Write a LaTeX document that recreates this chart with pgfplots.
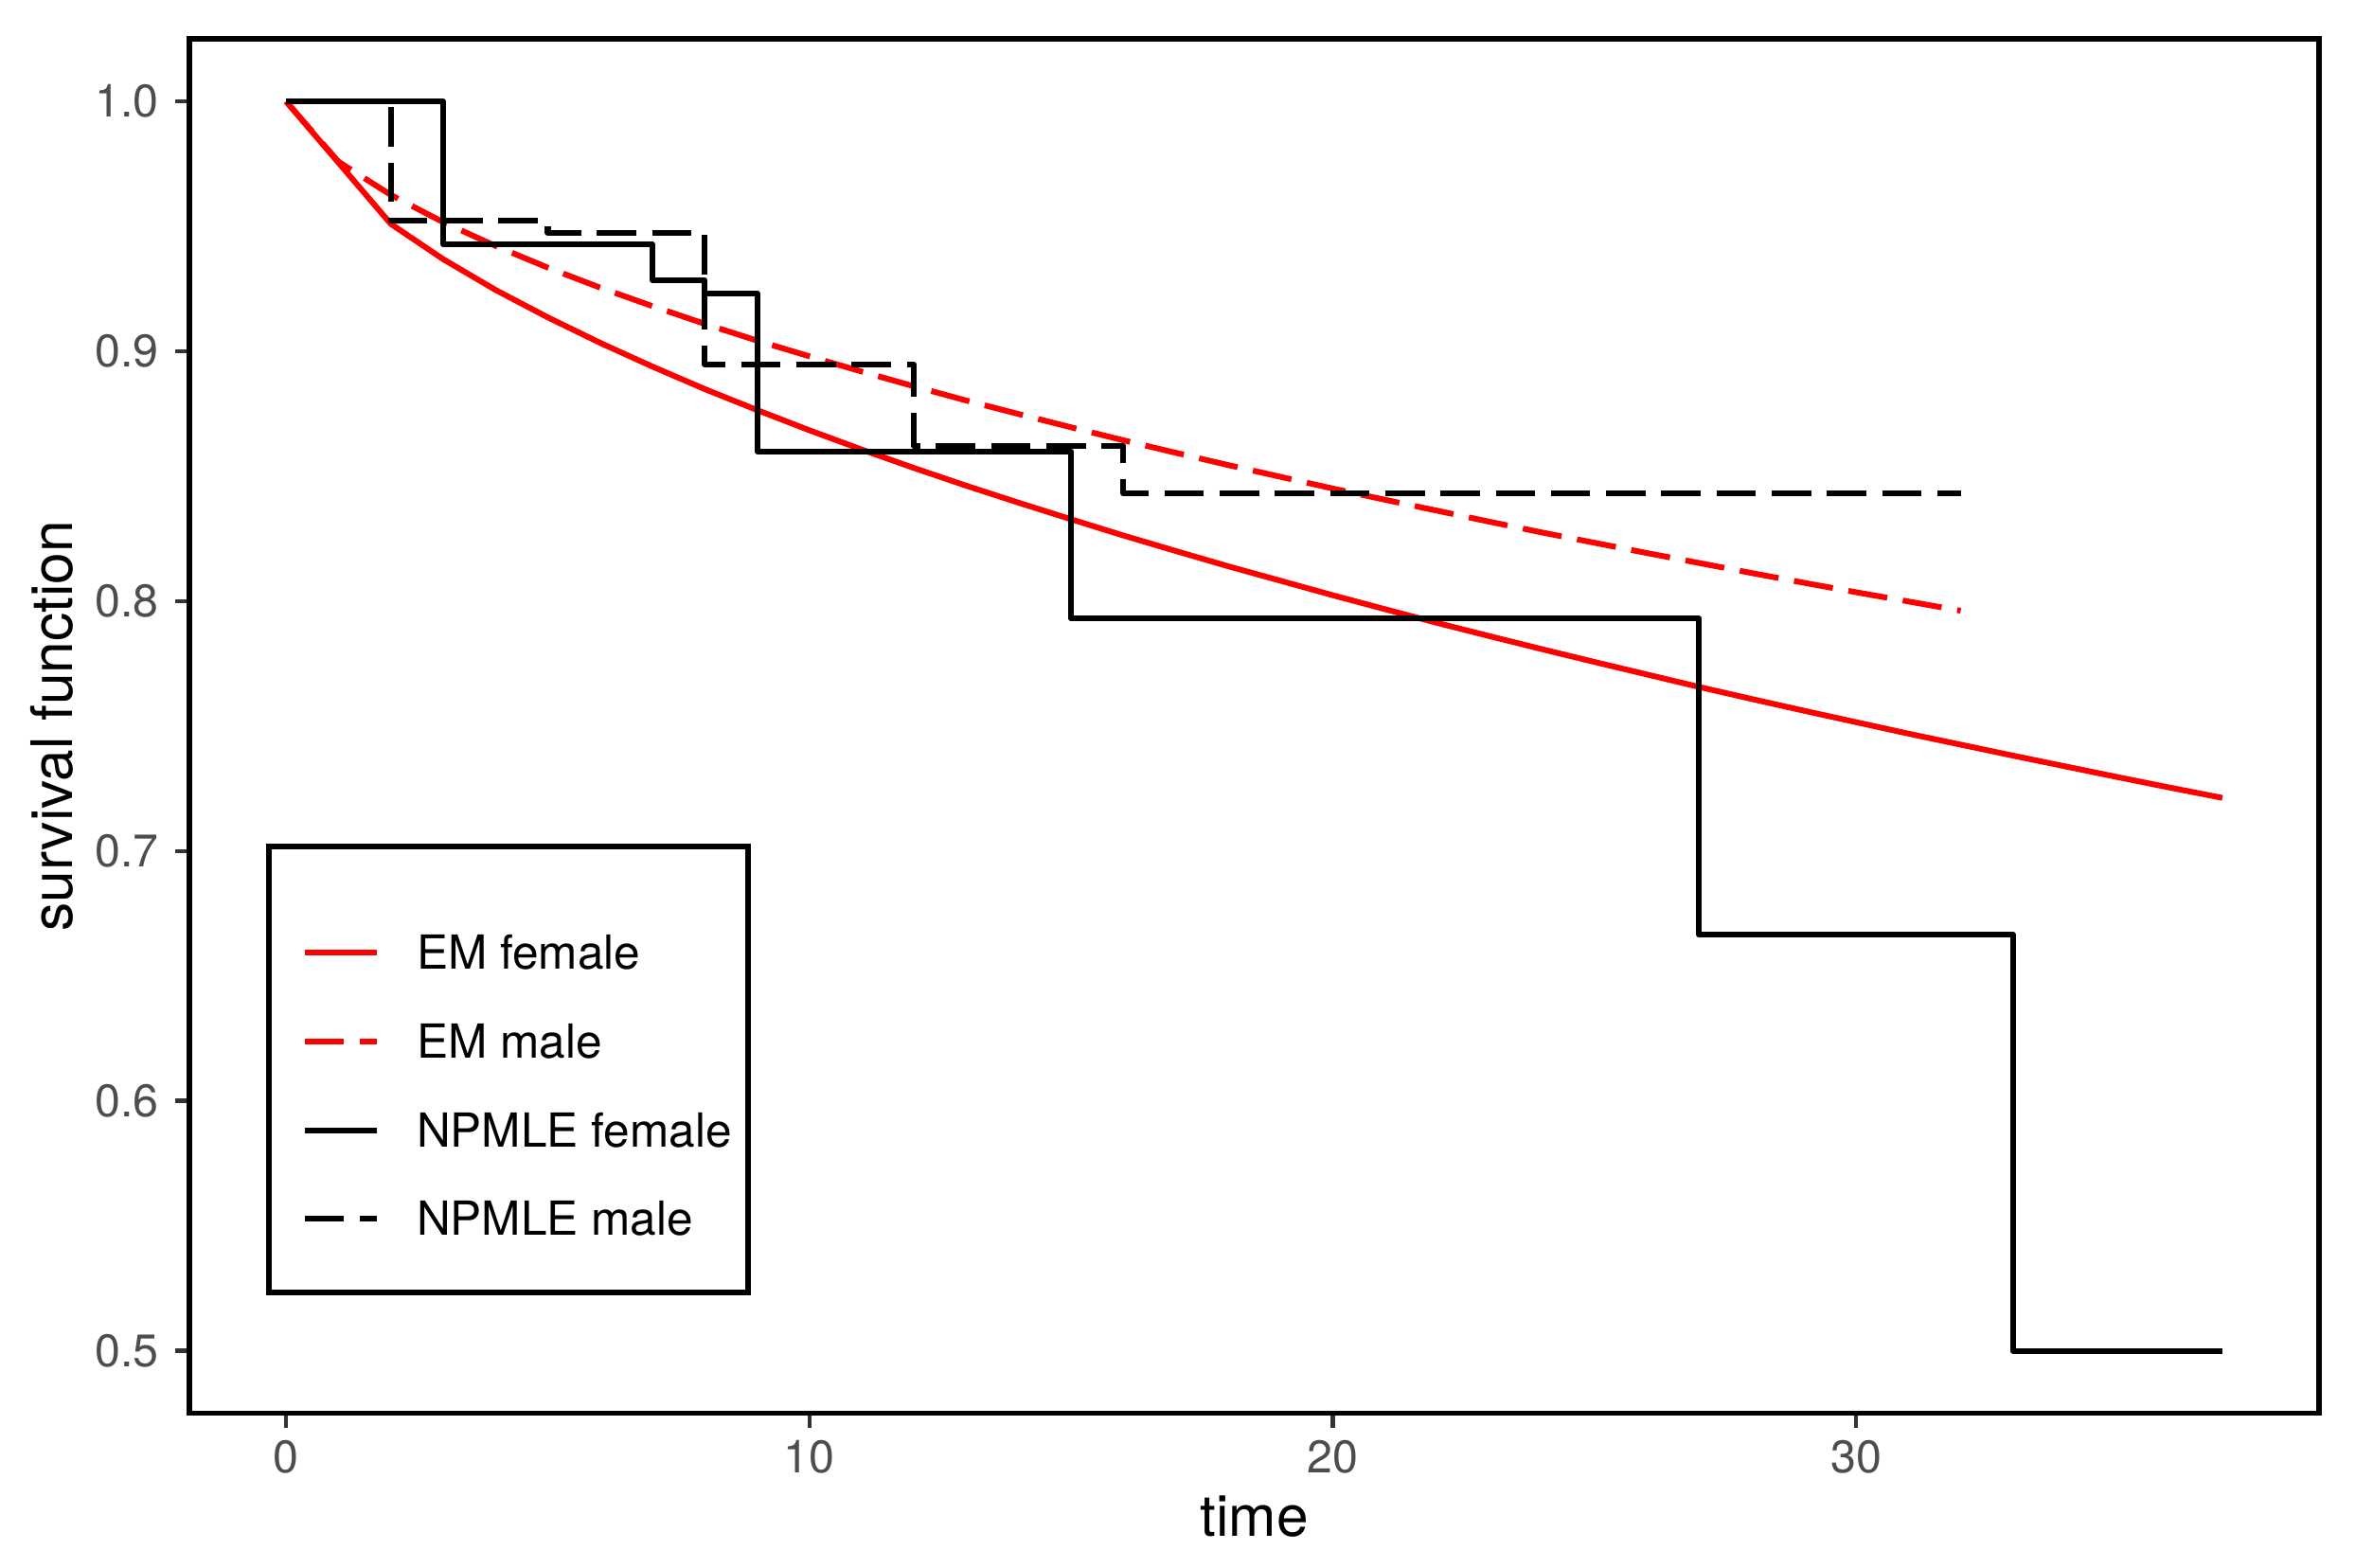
\documentclass[border=0pt]{standalone}
\usepackage{pgfplots}
\pgfplotsset{compat=1.18}
\usepackage{fontspec}
\setmainfont{TeX Gyre Heros}
\definecolor{ticktext}{HTML}{4D4D4D}
\definecolor{tickmark}{HTML}{333333}
% legend key with extra room above it (first row only)
\pgfplotsset{toprowimage/.style={legend image code/.code={\path (-4.1pt,11.8pt); \draw[##1] (0pt,0pt) -- (18.3pt,0pt);}}}

\begin{document}
\begin{tikzpicture}
\path[use as bounding box] (0,0) rectangle (597pt,397.5pt);
\begin{axis}[
  at={(48pt,39.2pt)}, anchor=south west,
  scale only axis, width=539.9pt, height=348.4pt,
  xmin=-1.85, xmax=38.85, ymin=0.475, ymax=1.025,
  xtick={0,10,20,30}, xticklabels={0,10,20,30},
  ytick={0.5,0.6,0.7,0.8,0.9,1.0}, yticklabels={0.5,0.6,0.7,0.8,0.9,1.0},
  tick align=outside, tick pos=left, major tick length=3.6pt,
  tick style={line width=1.1pt, color=tickmark},
  axis line style={line width=1.3pt, black},
  ticklabel style={font=\fontsize{11.6}{13.9}\selectfont, text=ticktext, inner sep=0pt},
  xticklabel style={anchor=north, yshift=-3.1pt},
  yticklabel style={anchor=east, xshift=-4pt},
  every axis x label/.style={at={(axis description cs:0.5,-0.0898)}, anchor=base, inner sep=0pt, font=\fontsize{14.5}{17}\selectfont},
  every axis y label/.style={at={(axis description cs:-0.0643,0.5)}, rotate=90, anchor=center, inner sep=0pt, font=\fontsize{14.5}{17}\selectfont},
  xlabel={time}, ylabel={survival function},
  legend cell align=left,
  legend style={at={(axis description cs:0.0374,0.4125)}, anchor=north west,
    draw=black, line width=1.3pt, outer sep=0pt,
    inner xsep=4.2pt, inner ysep=14.4pt, row sep=14.0pt, column sep=9.4pt,
    font=\fontsize{11.9}{14.2}\selectfont,
    nodes={inner sep=0pt, text height=8.5pt, text depth=0pt}},
  legend image code/.code={\path (-4.1pt,0pt); \draw[#1] (0pt,0pt) -- (18.3pt,0pt);},
]
% EM female
\addplot[red, line width=1.45pt, line join=round, toprowimage] coordinates {
(0,1) (2,0.9510) (3,0.9369) (4,0.9246) (5,0.9136) (6,0.9034) (7,0.8939) (8,0.8849)
(9,0.8765) (10,0.8684) (11,0.8607) (12,0.8533) (13,0.8462) (14,0.8394) (15,0.8328)
(16,0.8263) (17,0.8201) (18,0.8140) (19,0.8082) (20,0.8024) (21,0.7968) (22,0.7913)
(23,0.7860) (24,0.7808) (25,0.7757) (26,0.7707) (27,0.7657) (28,0.7609) (29,0.7562)
(30,0.7516) (31,0.7470) (32,0.7426) (33,0.7382) (34,0.7339) (35,0.7296) (36,0.7254)
(37,0.7213)};
\addlegendentry{EM female}
% EM male
\addplot[red, line width=1.45pt, line join=round, dash pattern=on 10pt off 4pt] coordinates {
(0,1) (1,0.9759) (2,0.9626) (3,0.9517) (4,0.9422) (5,0.9335) (6,0.9255) (7,0.9181)
(8,0.9110) (9,0.9043) (10,0.8980) (11,0.8919) (12,0.8860) (13,0.8803) (14,0.8749)
(15,0.8696) (16,0.8644) (17,0.8594) (18,0.8545) (19,0.8498) (20,0.8451) (21,0.8406)
(22,0.8362) (23,0.8318) (24,0.8275) (25,0.8234) (26,0.8193) (27,0.8153) (28,0.8113)
(29,0.8074) (30,0.8036) (31,0.7999) (32,0.7962)};
\addlegendentry{EM male}
% NPMLE female
\addplot[black, line width=1.45pt, line join=round, const plot] coordinates {
(0,1) (3,0.9428) (7,0.9285) (8,0.9232) (9,0.8600) (15,0.7930) (27,0.6665) (33,0.5) (37,0.5)};
\addlegendentry{NPMLE female}
% NPMLE male
\addplot[black, line width=1.45pt, line join=round, const plot, dash pattern=on 10pt off 4pt] coordinates {
(0,1) (2,0.9523) (5,0.9475) (8,0.8948) (12,0.8622) (16,0.8431) (32,0.8431)};
\addlegendentry{NPMLE male}
\end{axis}
\end{tikzpicture}
\end{document}
